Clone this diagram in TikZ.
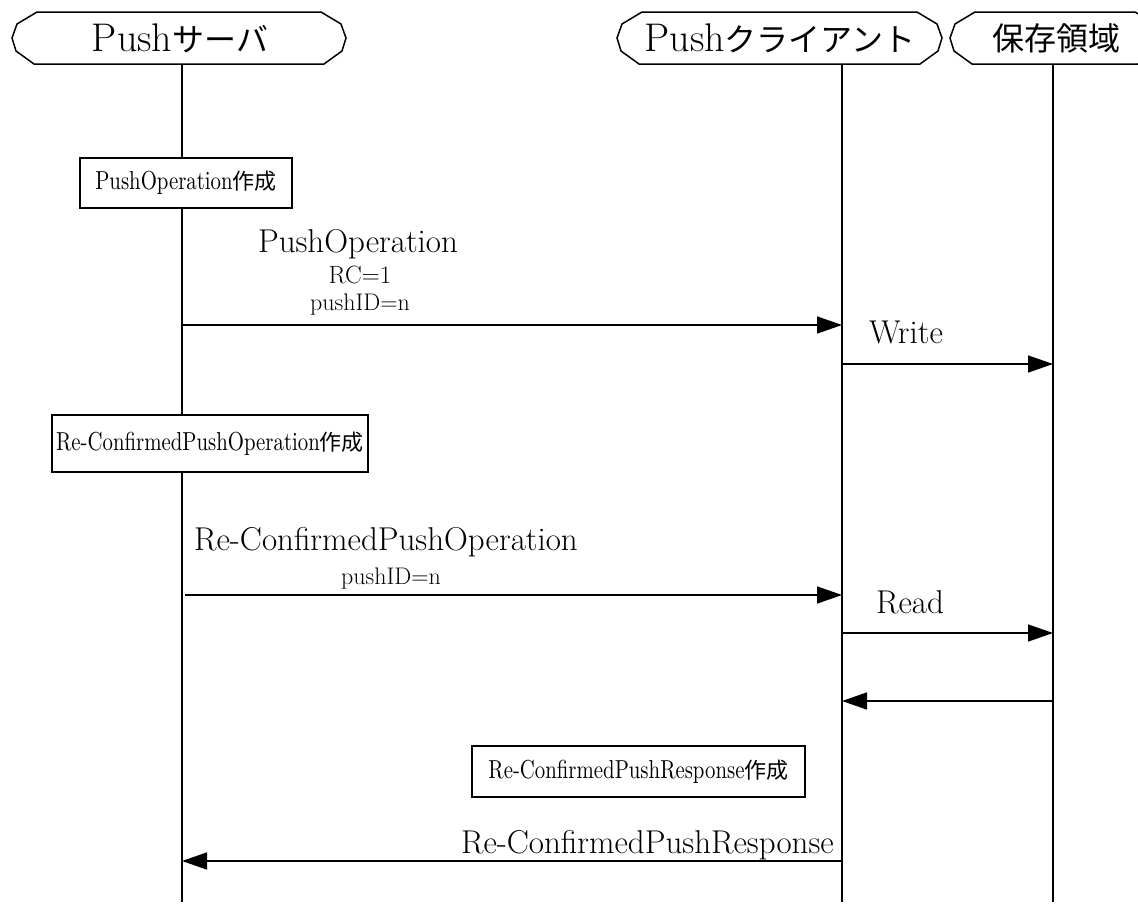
\documentclass[tikz,border=0pt]{standalone}
\usepackage{fontspec}
\newfontfamily\jp{Noto Sans CJK JP}
\newfontfamily\cond{lmroman10-regular}[Extension=.otf,FakeStretch=0.8]
\usetikzlibrary{arrows.meta}
\begin{document}
\begin{tikzpicture}[x=1pt,y=-1pt,
  life/.style={line width=1.5pt},
  msg/.style={line width=1.5pt,-{Triangle[length=25pt,width=17pt]}},
  actbox/.style={draw,line width=1.5pt,fill=white,inner sep=0pt,font=\cond\fontsize{26}{30}\selectfont},
  lbl/.style={inner sep=0pt,anchor=base,font=\fontsize{33}{36}\selectfont},
  small/.style={inner sep=0pt,anchor=base,font=\fontsize{25}{28}\selectfont},
  tiny/.style={inner sep=0pt,anchor=base,font=\fontsize{24}{26}\selectfont},
  head/.style={inner sep=0pt,font=\fontsize{40}{44}\selectfont}]
\useasboundingbox (0,0) rectangle (1138,905);
\newcommand\hdr[3]{% left, right, name
  \draw[line width=1.5pt,fill=white] (#1+25,12) -- (#2-25,12) -- (#2-5,24) -- (#2,38) -- (#2-4,51) -- (#2-22,64) -- (#1+22,64) -- (#1+4,51) -- (#1,38) -- (#1+5,24) -- cycle;
  \coordinate (#3) at ({(#1+#2)/2},64);}
\newcommand\hj[1]{{\jp\fontsize{32}{36}\selectfont #1}}
\newcommand\bj[1]{{\jp\fontsize{22}{26}\selectfont #1}}
% headers
\begin{scope}
\clip (0,0) rectangle (1138,905);
\hdr{12}{346}{hA}
\hdr{617}{942}{hB}
\hdr{950}{1160}{hC}
\end{scope}
\node[head] (tA) at (180,38) {Push\hj{サーバ}};
\node[head] (tB) at (780,38) {Push\hj{クライアント}};
\node[head] (tC) at (1056,38) {\hj{保存領域}};
% lifelines
\coordinate (sA) at (182,64); \coordinate (eA) at (182,902);
\coordinate (sB) at (842,64); \coordinate (eB) at (842,902);
\coordinate (sC) at (1053,64); \coordinate (eC) at (1053,902);
\draw[life] (sA) -- (eA);
\draw[life] (sB) -- (eB);
\draw[life] (sC) -- (eC);
% box 1
\node[actbox,minimum width=212pt,minimum height=50pt] (b1) at (186,183) {PushOperation\bj{作成}};
% message 1
\node[lbl] (l1) at (358,252) {PushOperation};
\node[small] (l1b) at (360,283) {RC=1};
\node[tiny] (l1c) at (360,310) {pushID=n};
\coordinate (m1a) at (182,325); \coordinate (m1b) at (842,325);
\draw[msg] (m1a) -- (m1b);
% write
\node[lbl] (lw) at (906,343) {Write};
\coordinate (w1a) at (842,364); \coordinate (w1b) at (1053,364);
\draw[msg] (w1a) -- (w1b);
% box 2
\node[actbox,minimum width=316pt,minimum height=57pt] (b2) at (210,443.5) {Re-ConfirmedPushOperation\bj{作成}};
% message 2
\node[lbl] (l2) at (386,550) {Re-ConfirmedPushOperation};
\node[tiny] (l2b) at (391,584) {pushID=n};
\coordinate (m2a) at (185,595); \coordinate (m2b) at (842,595);
\draw[msg] (m2a) -- (m2b);
% read
\node[lbl] (lr) at (910,613) {Read};
\coordinate (r1a) at (842,633); \coordinate (r1b) at (1053,633);
\draw[msg] (r1a) -- (r1b);
\coordinate (r2a) at (1053,701); \coordinate (r2b) at (842,701);
\draw[msg] (r2a) -- (r2b);
% box 3
\node[actbox,minimum width=333pt,minimum height=51pt] (b3) at (638.5,771.5) {Re-ConfirmedPushResponse\bj{作成}};
% message 3
\node[lbl,anchor=base east] (l3) at (834,853) {Re-ConfirmedPushResponse};
\coordinate (m3a) at (842,861); \coordinate (m3b) at (182,861);
\draw[msg] (m3a) -- (m3b);
\end{tikzpicture}
\end{document}
